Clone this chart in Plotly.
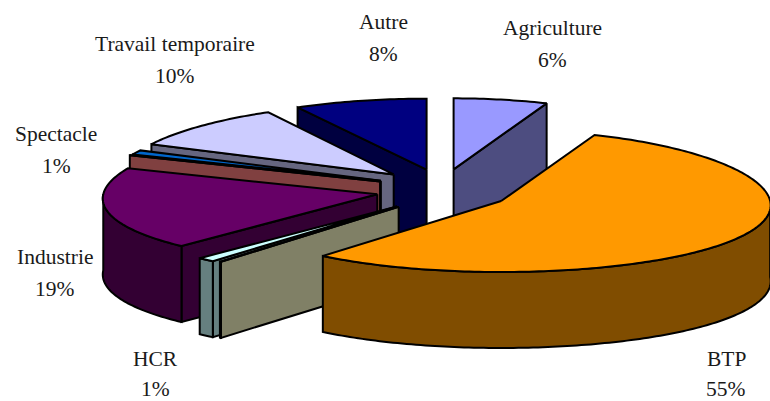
import math
import plotly.graph_objects as go

# Sector shares in percent, clockwise from twelve o'clock
sectors = ["Agriculture", "BTP", "", "HCR", "Industrie", "", "Spectacle", "Travail temporaire", "Autre"]
shares = [6, 55, 0.08, 1, 19, 0.05, 1, 10, 8]

top_colors = ["#9999FF", "#FF9900", "#FFFFCC", "#CCFFFF", "#660066", "#FF8080", "#0066CC", "#CCCCFF", "#000080"]
side_colors = ["#4D4D80", "#804D00", "#808066", "#668080", "#330033", "#804040", "#003366", "#666680", "#000040"]

# How far each slice is pulled out, and its projected horizontal radius
explode = [1.0, 1.107, 1.1, 1.1, 1.07, 1.075, 1.075, 1.07, 1.0]
radius_x = [268, 269, 268, 276, 274, 275, 273, 275, 283]

# Painter's order: far slices first
draw_order = [0, 8, 7, 6, 5, 4, 3, 2, 1]

CX, CY = 442, 189.5    # pie centre
RY = 71                # projected vertical radius
EX, EY = 62, 20.5      # base slice explosion
DEPTH = 76             # wall height
PERSP = 0.06           # widening towards the viewer


def rim(apex, rx, deg):
    t = math.radians(deg)
    x = apex[0] + rx * math.sin(t) * (1 - PERSP * math.cos(t))
    y = apex[1] - RY * math.cos(t)
    return x, y


def arc(apex, rx, a, b):
    n = max(2, int(abs(b - a)) + 2)
    return [rim(apex, rx, a + (b - a) * i / (n - 1)) for i in range(n)]


def drop(points):
    return [(x, y + DEPTH) for x, y in points]


fig = go.Figure()


def face(points, color):
    xs = [p[0] for p in points] + [points[0][0]]
    ys = [p[1] for p in points] + [points[0][1]]
    fig.add_trace(go.Scatter(x=xs, y=ys, mode="lines", fill="toself", fillcolor=color,
                             line=dict(color="black", width=2, simplify=False),
                             hoverinfo="skip", showlegend=False))


total = sum(shares)
spans = []
running = 0.0
for share in shares:
    start = running / total * 360
    running += share
    spans.append((start, running / total * 360))

for i in draw_order:
    a, b = spans[i]
    rx = radius_x[i]
    mid = math.radians((a + b) / 2)
    apex = (CX + EX * explode[i] * math.sin(mid), CY - EY * explode[i] * math.cos(mid))
    dark = side_colors[i]
    if math.sin(math.radians(b)) > 0:
        edge = [apex, rim(apex, rx, b)]
        face(edge + drop(edge)[::-1], dark)
    if math.sin(math.radians(a)) < 0:
        edge = [apex, rim(apex, rx, a)]
        face(edge + drop(edge)[::-1], dark)
    lo, hi = max(a, 90), min(b, 270)
    if lo < hi:
        wall = arc(apex, rx, lo, hi)
        face(wall + drop(wall)[::-1], dark)
    face([apex] + arc(apex, rx, a, b), top_colors[i])

# Category name and percentage above each other, outside the pie
label_spots = {
    "Agriculture": (552, 28), "BTP": (726, 359), "HCR": (155, 359), "Industrie": (55, 257),
    "Spectacle": (56, 134), "Travail temporaire": (175, 44), "Autre": (383, 22),
}
for name, share in zip(sectors, shares):
    if not name:
        continue
    x, y = label_spots[name]
    gap = 30 if y > 340 else 32
    for text, yy in ((name, y), (f"{share}%", y + gap)):
        fig.add_annotation(x=x, y=yy, text=text, showarrow=False, xanchor="center", yanchor="middle",
                           font=dict(family="Liberation Serif", size=21.5, color="#1a1a1a"))

fig.update_xaxes(range=[0, 770], visible=False, fixedrange=True)
fig.update_yaxes(range=[401, 0], visible=False, fixedrange=True)
fig.update_layout(width=770, height=401, margin=dict(l=0, r=0, t=0, b=0),
                  plot_bgcolor="white", paper_bgcolor="white", showlegend=False)
fig.write_html("out.html", config={"displayModeBar": False})
